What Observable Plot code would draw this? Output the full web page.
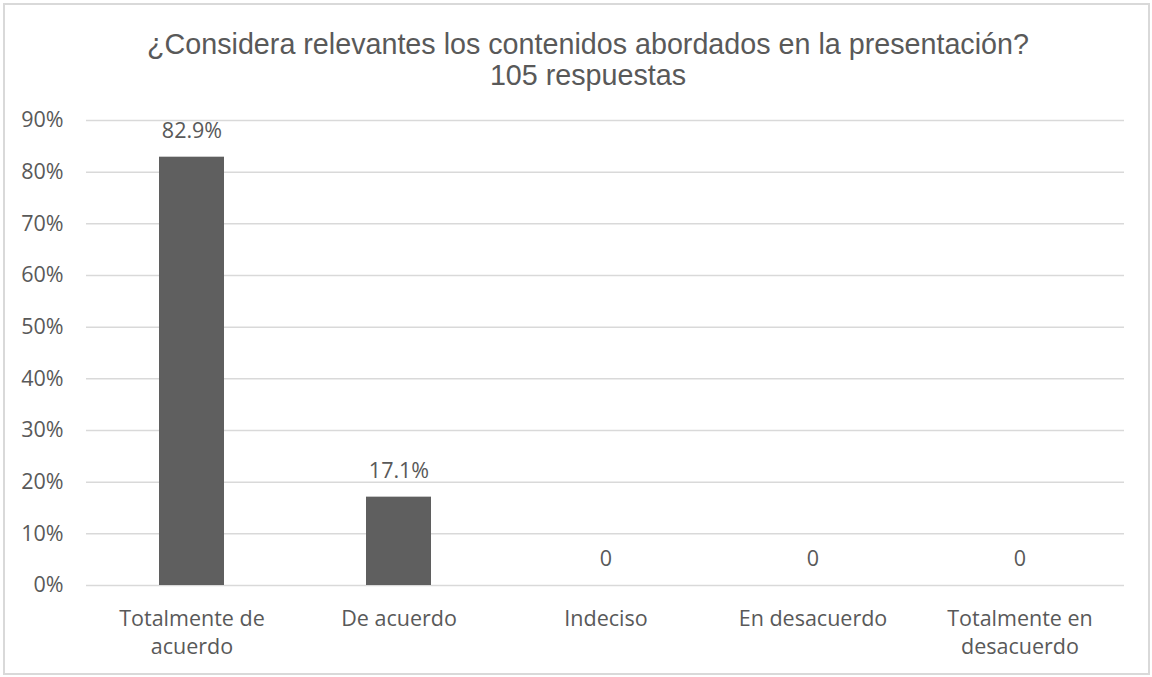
<!DOCTYPE html>
<html>
<head>
<meta charset="utf-8">
<script src="https://cdn.jsdelivr.net/npm/d3@7"></script>
<script src="https://cdn.jsdelivr.net/npm/@observablehq/plot@0.6"></script>
<style>
  html, body { margin: 0; padding: 0; background: #fff; }
  #wrap { position: relative; width: 1152px; height: 677px; overflow: hidden; }
  #frame { position: absolute; left: 3px; top: 3px; width: 1143px; height: 668px; border: 2px solid #d9d9d9; box-sizing: content-box; pointer-events: none; }
  #title { position: absolute; left: 12px; top: 29px; width: 1152px; text-align: center; font-family: "Liberation Sans", Arial, sans-serif; font-size: 28.7px; line-height: 31px; color: #595959; }
  #plot { position: absolute; left: 0; top: 0; }
</style>
</head>
<body>
<div id="wrap">
  <div id="plot"></div>
  <div id="title">¿Considera relevantes los contenidos abordados en la presentación?<br>105 respuestas</div>
  <div id="frame"></div>
</div>
<script>
const categories = ["Totalmente de\nacuerdo", "De acuerdo", "Indeciso", "En desacuerdo", "Totalmente en\ndesacuerdo"];
const values = [0.829, 0.171, 0, 0, 0];
const valueLabels = ["82.9%", "17.1%", "0", "0", "0"];
const yTicks = [0, 0.1, 0.2, 0.3, 0.4, 0.5, 0.6, 0.7, 0.8, 0.9];

const data = categories.map((c, i) => ({category: c, value: values[i], label: valueLabels[i]}));

const font = "'Open Sans', 'Noto Sans', sans-serif";
const fs = 21.5;
const chart = Plot.plot({
  width: 1152,
  height: 677,
  marginLeft: 86,
  marginRight: 28,
  marginTop: 120,
  marginBottom: 92,
  style: {fontFamily: font, fontSize: fs + "px", color: "#595959", background: "transparent"},
  x: {domain: categories, paddingInner: 0.686, paddingOuter: 0.343, label: null},
  y: {domain: [0, 0.9], label: null},
  marks: [
    Plot.gridY(yTicks, {stroke: "#d9d9d9", strokeOpacity: 1, strokeWidth: 1.5}),
    Plot.axisY(yTicks, {tickSize: 0, tickPadding: 23, tickFormat: d3.format(".0%"), fill: "#595959", fontSize: fs, label: null}),
    Plot.axisX({tickSize: 0, tickPadding: 20, fill: "#595959", fontSize: fs, lineHeight: 1.32, label: null}),
    Plot.barY(data, {x: "category", y: "value", fill: "#5f5f5f"}),
    Plot.text(data, {x: "category", y: "value", text: "label", dy: -26, fill: "#595959", fontSize: fs})
  ]
});
document.getElementById("plot").appendChild(chart);
</script>
</body>
</html>
